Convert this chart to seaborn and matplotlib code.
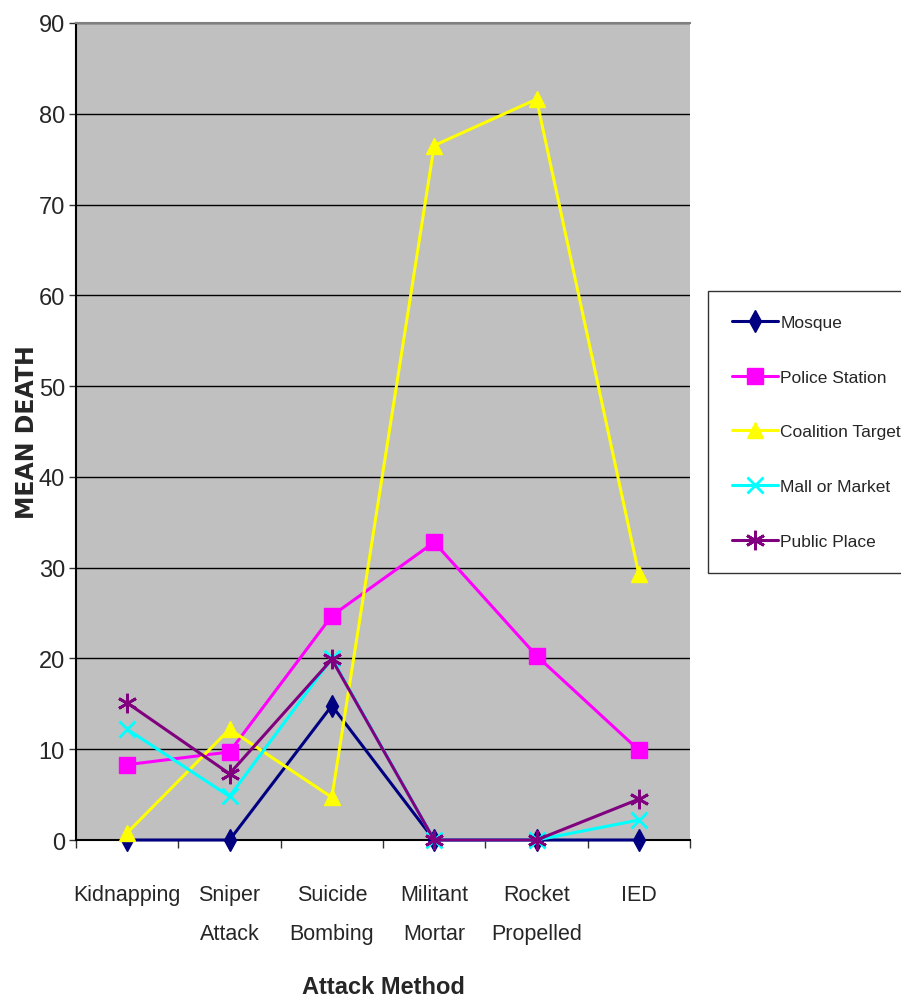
import matplotlib
matplotlib.use("Agg")
import matplotlib.pyplot as plt
import seaborn as sns
import pandas as pd
import numpy as np

categories = ["Kidnapping", "Sniper\nAttack", "Suicide\nBombing", "Militant\nMortar", "Rocket\nPropelled", "IED"]
series_names = ["Mosque", "Police Station", "Coalition Target", "Mall or Market", "Public Place"]
mosque = [0, 0, 14.8, 0, 0, 0]
police_station = [8.3, 9.7, 24.7, 32.8, 20.3, 9.9]
coalition_target = [0.8, 12.2, 4.7, 76.5, 81.6, 29.3]
mall_or_market = [12.2, 4.8, 20.0, 0, 0, 2.2]
public_place = [15.1, 7.3, 19.9, 0, 0, 4.5]
y_ticks = [0, 10, 20, 30, 40, 50, 60, 70, 80, 90]

colors = ["#000080", "#FF00FF", "#FFFF00", "#00FFFF", "#800080"]
markers = ["d", "s", "^", "x", (6, 2, 0)]
msizes = [11, 11, 12, 11, 14]

sns.set_theme(style="white")
plt.rcParams["font.family"] = ["Liberation Sans", "DejaVu Sans"]

rows = []
all_vals = [mosque, police_station, coalition_target, mall_or_market, public_place]
for name, vals in zip(series_names, all_vals):
    for i, v in enumerate(vals):
        rows.append({"pos": i, "value": v, "series": name})
df = pd.DataFrame(rows)

fig = plt.figure(figsize=(9.01, 10.03), dpi=100)
ax = fig.add_axes([0.0844, 0.1615, 0.6814, 0.8146])
ax.set_facecolor("#C0C0C0")

for name, col, mk, ms in zip(series_names, colors, markers, msizes):
    sub = df[df["series"] == name]
    sns.lineplot(data=sub, x="pos", y="value", ax=ax, color=col, linewidth=2.2,
                 marker=mk, markersize=ms, markeredgecolor=col, markerfacecolor=col,
                 markeredgewidth=2 if mk in ("x",) or isinstance(mk, tuple) else 1,
                 label=name, clip_on=False, zorder=3)

ax.set_xlim(-0.5, 5.5)
ax.set_ylim(0, 90)
ax.set_yticks(y_ticks)
ax.set_yticklabels([str(t) for t in y_ticks], fontsize=17)
ax.set_xticks(range(len(categories)))
ax.set_xticklabels(categories, fontsize=15.5, linespacing=2.1)
ax.set_xticks(np.arange(-0.5, 6.0, 1.0), minor=True)
ax.tick_params(axis="x", which="major", length=0, pad=32)
ax.tick_params(axis="x", which="minor", length=6, width=1, color="#333333", bottom=True)
ax.tick_params(axis="y", which="major", length=5, width=1, color="#333333", left=True, pad=3)

ax.grid(axis="y", color="black", linewidth=1)
ax.set_axisbelow(True)
ax.spines["top"].set_color("#808080")
ax.spines["top"].set_linewidth(1.5)
ax.spines["right"].set_visible(False)
for s in ["left", "bottom"]:
    ax.spines[s].set_color("black")
    ax.spines[s].set_linewidth(1.5)

ax.set_xlabel("Attack Method", fontsize=17, fontweight="bold", labelpad=22)
ax.set_ylabel("")
fig.text(27 / 901, 1 - 432 / 1003, "MEAN DEATH", rotation=90, fontsize=17,
         fontweight="bold", family=["DejaVu Sans"], ha="center", va="center")

handles, labels = ax.get_legend_handles_labels()
ax.get_legend().remove()
leg = fig.legend(handles, labels, loc="upper left", bbox_to_anchor=(0.786, 0.709),
                 frameon=True, fancybox=False, fontsize=12.5, labelspacing=2.27,
                 handlelength=2.6, borderpad=1.4, handletextpad=0.15,
                 borderaxespad=0)
leg.get_frame().set_edgecolor("black")
leg.get_frame().set_linewidth(1)

fig.savefig("out.png", dpi=100)
